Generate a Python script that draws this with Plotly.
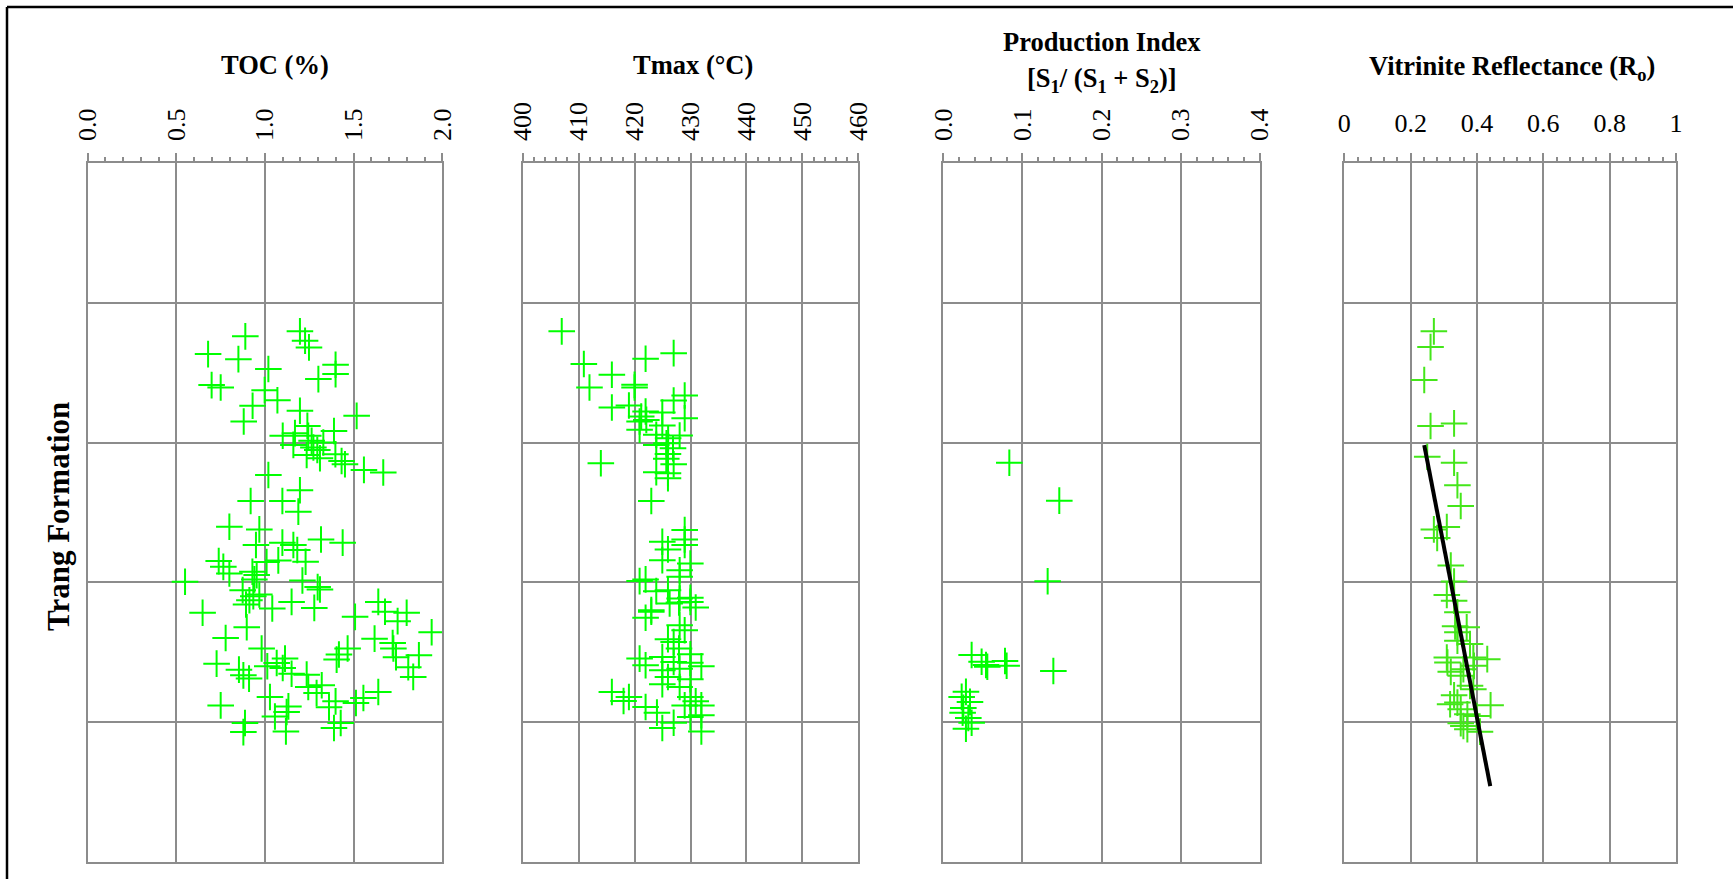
import plotly.graph_objects as go

# ---------------- data (depth in arbitrary stratigraphic units, 0 = top) -------------
toc_values = [0.889, 1.197, 1.226, 1.248, 0.679, 0.850, 1.019, 1.398, 1.398, 1.301,
              0.699, 0.750, 0.998, 1.070, 0.930, 1.197, 0.880, 1.517, 1.239, 1.389,
              1.100, 1.169, 1.244, 1.263, 1.329, 1.160, 1.273, 1.295, 1.235, 1.310,
              1.397, 1.432, 1.451, 1.558, 1.667, 1.019, 1.197, 0.919, 1.098, 1.188,
              0.799, 0.968, 0.949, 1.098, 1.160, 1.182, 1.316, 1.438, 0.739, 0.765,
              0.799, 1.009, 1.075, 1.229, 0.929, 0.953, 0.940, 0.549, 1.211, 1.297,
              1.310, 0.874, 0.934, 0.968, 0.912, 0.893, 0.648, 1.041, 1.150, 1.278,
              1.639, 1.677, 1.508, 1.799, 1.748, 1.940, 0.897, 0.778, 1.618, 1.720,
              1.724, 1.868, 1.466, 1.417, 1.404, 0.981, 1.739, 1.808, 1.836, 0.727,
              0.853, 0.878, 0.910, 1.013, 1.066, 1.113, 1.100, 1.150, 1.235, 1.244,
              1.320, 1.291, 0.750, 1.028, 1.132, 1.122, 1.056, 1.118, 0.887, 0.878,
              1.361, 1.398, 1.513, 1.555, 1.639, 1.389, 1.427]
toc_depth = [1.239, 1.203, 1.270, 1.318, 1.366, 1.402, 1.473, 1.442, 1.509, 1.545,
             1.588, 1.605, 1.624, 1.696, 1.736, 1.772, 1.849, 1.808, 1.880, 1.916,
             1.951, 1.932, 1.951, 1.987, 1.999, 2.016, 2.035, 2.052, 2.088, 2.112,
             2.083, 2.131, 2.155, 2.195, 2.214, 2.231, 2.341, 2.418, 2.418, 2.494,
             2.602, 2.621, 2.733, 2.716, 2.733, 2.769, 2.693, 2.716, 2.848, 2.889,
             2.936, 2.855, 2.843, 2.853, 2.924, 2.948, 2.979, 2.996, 2.987, 3.034,
             3.051, 3.056, 3.099, 3.087, 3.128, 3.159, 3.218, 3.187, 3.140, 3.183,
             3.140, 3.211, 3.247, 3.218, 3.278, 3.357, 3.321, 3.398, 3.403, 3.434,
             3.474, 3.522, 3.474, 3.517, 3.553, 3.474, 3.536, 3.608, 3.677, 3.582,
             3.625, 3.666, 3.689, 3.601, 3.577, 3.546, 3.613, 3.654, 3.661, 3.749,
             3.737, 3.792, 3.881, 3.821, 3.888, 3.928, 3.960, 4.067, 4.007, 4.072,
             3.895, 3.852, 3.864, 3.828, 3.785, 4.043, 4.007]

tmax_values = [406.98, 410.93, 421.97, 426.99, 415.94, 411.94, 420.00, 420.00, 415.94, 418.99,
               426.99, 428.96, 421.97, 421.19, 420.90, 422.10, 420.90, 424.96, 424.96, 428.96,
               423.88, 428.06, 426.00, 425.70, 423.88, 426.87, 425.97, 425.67, 426.99, 423.88,
               425.97, 425.97, 413.97, 422.99, 428.96, 428.96, 428.96, 424.96, 425.97, 424.96,
               429.97, 428.06, 428.06, 420.90, 421.97, 423.88, 425.97, 428.06, 429.97, 426.27,
               427.94, 430.93, 429.97, 422.99, 421.97, 422.99, 428.06, 428.96, 425.97, 426.99,
               427.94, 429.97, 420.90, 421.97, 424.96, 426.99, 428.06, 424.96, 429.97, 431.94,
               425.97, 429.97, 428.06, 424.96, 415.94, 418.99, 418.03, 421.97, 424.00, 426.99,
               424.96, 429.97, 430.93, 431.94, 428.96, 429.97, 431.94, 431.94]
tmax_depth = [1.203, 1.437, 1.399, 1.359, 1.514, 1.605, 1.605, 1.586, 1.748, 1.734,
              1.698, 1.662, 1.777, 1.813, 1.849, 1.837, 1.908, 1.784, 1.877, 1.825,
              1.944, 1.949, 1.968, 2.004, 2.016, 2.040, 2.081, 2.116, 2.155, 2.212,
              2.219, 2.255, 2.147, 2.418, 2.626, 2.693, 2.733, 2.709, 2.764, 2.841,
              2.865, 2.913, 2.960, 2.991, 2.979, 3.063, 3.056, 3.116, 3.111, 3.152,
              3.144, 3.180, 3.140, 3.199, 3.254, 3.211, 3.307, 3.343, 3.407, 3.427,
              3.474, 3.515, 3.546, 3.594, 3.534, 3.570, 3.618, 3.630, 3.575, 3.601,
              3.678, 3.694, 3.749, 3.730, 3.785, 3.821, 3.850, 3.893, 3.933, 4.005,
              4.043, 3.821, 3.852, 3.881, 3.881, 3.964, 3.952, 4.067]

pi_values = [0.0834, 0.1465, 0.1318, 0.1390, 0.0358, 0.0484, 0.0539, 0.0556, 0.0779, 0.0800,
             0.0286, 0.0232, 0.0337, 0.0253, 0.0244, 0.0316, 0.0358, 0.0286]
pi_depth = [2.144, 2.415, 2.992, 3.635, 3.520, 3.568, 3.592, 3.604, 3.563, 3.597,
            3.784, 3.820, 3.856, 3.899, 3.933, 3.971, 4.005, 4.048]

ro_values = [0.270, 0.260, 0.241, 0.260, 0.331, 0.250, 0.331, 0.341, 0.351, 0.309,
             0.270, 0.280, 0.321, 0.331, 0.309, 0.331, 0.341, 0.334, 0.369, 0.341,
             0.341, 0.379, 0.309, 0.311, 0.389, 0.431, 0.321, 0.359, 0.391, 0.351,
             0.379, 0.331, 0.389, 0.319, 0.341, 0.351, 0.441, 0.371, 0.399, 0.351,
             0.371, 0.409, 0.359]
ro_depth = [1.203, 1.316, 1.551, 1.881, 1.862, 2.101, 2.144, 2.305, 2.453, 2.604,
            2.621, 2.683, 2.879, 2.994, 3.090, 3.131, 3.215, 3.315, 3.322, 3.358,
            3.418, 3.442, 3.538, 3.574, 3.538, 3.550, 3.641, 3.622, 3.598, 3.669,
            3.741, 3.808, 3.765, 3.873, 3.861, 3.909, 3.880, 3.945, 3.957, 4.009,
            4.052, 4.069, 4.028]

ro_trend_values = [0.241, 0.440]
ro_trend_depth = [2.017, 4.459]

toc_ticks = [0.0, 0.5, 1.0, 1.5, 2.0]
toc_ticktext = ["0.0", "0.5", "1.0", "1.5", "2.0"]
tmax_ticks = [400, 410, 420, 430, 440, 450, 460]
tmax_ticktext = ["400", "410", "420", "430", "440", "450", "460"]
pi_ticks = [0.0, 0.1, 0.2, 0.3, 0.4]
pi_ticktext = ["0.0", "0.1", "0.2", "0.3", "0.4"]
ro_ticks = [0, 0.2, 0.4, 0.6, 0.8, 1.0]
ro_ticktext = ["0", "0.2", "0.4", "0.6", "0.8", "1"]

panel_titles = ["<b>TOC (%)</b>", "<b>Tmax (°C)</b>", None,
                "<b>Vitrinite Reflectance (R<sub>o</sub>)</b>"]
pi_title_lines = ["<b>Production Index</b>",
                  "<b>[S<sub>1</sub>/ (S<sub>1</sub> + S<sub>2</sub>)]</b>"]
formation_label = "<b>Trang Formation</b>"

# ---------------- layout geometry ----------------
W, H = 1733, 879
FONT = "Liberation Serif, Times New Roman, serif"
GRID = "#8c8c8c"
GREEN = "#00ff00"
GREEN_RO = "#44e61a"

x_px = [(87.7, 442.3), (522.7, 858.3), (943.3, 1260.0), (1344.3, 1676.0)]
y_top, y_bot = 163.3, 861.7
ydom = [1 - y_bot / H, 1 - y_top / H]

fig = go.Figure()

panels = [
    (toc_values, toc_depth, [0, 2], toc_ticks, toc_ticktext, 0.1, -90, GREEN),
    (tmax_values, tmax_depth, [400, 460], tmax_ticks, tmax_ticktext, 2, -90, GREEN),
    (pi_values, pi_depth, [0, 0.4], pi_ticks, pi_ticktext, 0.02, -90, GREEN),
    (ro_values, ro_depth, [0, 1], ro_ticks, ro_ticktext, 0.04, 0, GREEN_RO),
]

for i, (xv, yv, xr, tv, tt, mdt, ang, col) in enumerate(panels):
    n = "" if i == 0 else str(i + 1)
    xa, ya = "x" + n, "y" + n
    fig.add_trace(go.Scatter(
        x=xv, y=yv, mode="markers", xaxis=xa, yaxis=ya, showlegend=False,
        marker=dict(symbol="cross-thin", size=19, color=col,
                    line=dict(color=col, width=2)),
    ))
    fig.layout["xaxis" + n] = dict(
        domain=[x_px[i][0] / W, x_px[i][1] / W], range=xr, anchor=ya, side="top",
        tickvals=tv, ticktext=tt, tickangle=ang,
        ticks="outside", ticklen=8, tickwidth=2, tickcolor=GRID,
        minor=dict(dtick=mdt, ticks="outside", ticklen=4, tickwidth=1.5, tickcolor=GRID,
                   showgrid=False),
        showgrid=True, gridcolor=GRID, gridwidth=2,
        showline=True, linecolor=GRID, linewidth=2, mirror=True,
        zeroline=False, ticklabelstandoff=7 if ang else 11, automargin=False,
        tickfont=dict(family=FONT, size=26, color="black"), fixedrange=True,
    )
    fig.layout["yaxis" + n] = dict(
        domain=ydom, range=[5, 0], anchor=xa, dtick=1, showticklabels=False,
        ticks="", showgrid=True, gridcolor=GRID, gridwidth=2, automargin=False,
        showline=True, linecolor=GRID, linewidth=2, mirror=True, zeroline=False,
        fixedrange=True,
    )

fig.add_trace(go.Scatter(
    x=ro_trend_values, y=ro_trend_depth, mode="lines", xaxis="x4", yaxis="y4",
    showlegend=False, line=dict(color="black", width=4),
))

title_cx = [274.7, 693.0, 1101.7, 1512.0]
title_y = [65, 65, None, 68]
annotations = []
for i, t in enumerate(panel_titles):
    if t is None:
        continue
    annotations.append(dict(
        text=t, x=title_cx[i] / W, y=1 - title_y[i] / H,
        xref="paper", yref="paper", xanchor="center", yanchor="middle",
        showarrow=False, font=dict(family=FONT, size=26.5, color="black"),
    ))
for line, yy in zip(pi_title_lines, [42, 80]):
    annotations.append(dict(
        text=line, x=title_cx[2] / W, y=1 - yy / H,
        xref="paper", yref="paper", xanchor="center", yanchor="middle",
        showarrow=False, font=dict(family=FONT, size=26.5, color="black"),
    ))
annotations.append(dict(
    text=formation_label, x=58 / W, y=1 - 517 / H, xref="paper", yref="paper",
    xanchor="center", yanchor="middle", textangle=-90, showarrow=False,
    font=dict(family=FONT, size=31, color="black"),
))

shapes = [
    dict(type="line", xref="paper", yref="paper", x0=7 / W, x1=7 / W, y0=0, y1=1 - 7 / H,
         line=dict(color="black", width=2.5)),
    dict(type="line", xref="paper", yref="paper", x0=7 / W, x1=1, y0=1 - 7 / H, y1=1 - 7 / H,
         line=dict(color="black", width=2.5)),
]

fig.update_layout(
    width=W, height=H, margin=dict(l=0, r=0, t=0, b=0, autoexpand=False),
    paper_bgcolor="white", plot_bgcolor="white",
    annotations=annotations, shapes=shapes, showlegend=False,
    font=dict(family=FONT, color="black"),
)

fig.write_html(
    "out.html",
    config={"displayModeBar": False, "responsive": False},
    post_script=("document.documentElement.style.margin='0';"
                 "document.body.style.margin='0';"
                 "document.body.style.padding='0';"
                 "document.documentElement.style.overflow='hidden';"
                 "document.body.style.overflow='hidden';"),
)
